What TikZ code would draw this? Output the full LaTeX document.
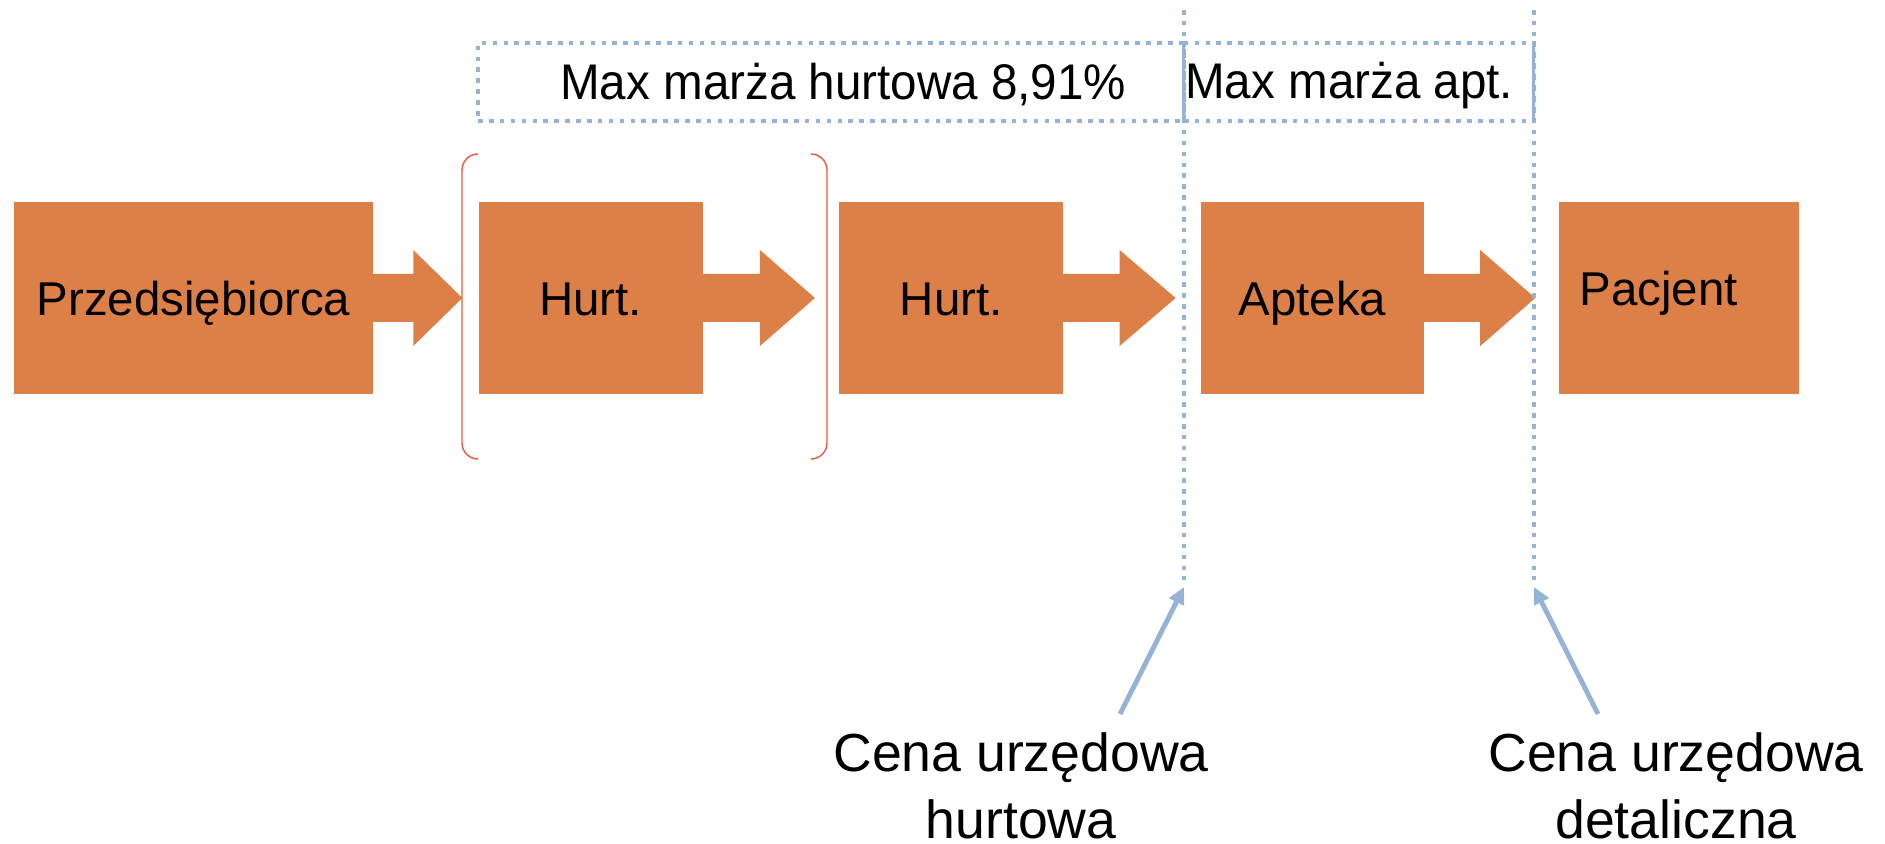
\documentclass[tikz,border=0pt]{standalone}
\usepackage{fontspec}
\newfontfamily\arialfont{Liberation Sans}
\newfontfamily\arialnarrow[FakeStretch=0.95]{Liberation Sans}
\usetikzlibrary{arrows.meta, positioning}
\definecolor{boxorange}{HTML}{DD8048}
\definecolor{lineblue}{HTML}{95B3D7}
\definecolor{bracketred}{HTML}{F0563C}

\begin{document}
\begin{tikzpicture}[
          x=0.02cm, y=-0.02cm,
          box/.style={fill=boxorange, minimum height=3.84cm, minimum width=4.48cm, inner sep=0pt,
              text height=0.72cm, text depth=0pt, font=\arialfont\fontsize{27}{32}\selectfont},
          % Margin boxes on top
          marginbox/.style={draw=lineblue, line width=2.6pt, dash pattern=on 2.6pt off 3.6pt,
              minimum height=1.56cm, inner sep=0pt, outer sep=0pt},
          margintext/.style={anchor=base west, inner sep=0pt, font=\arialnarrow\fontsize{28.5}{34}\selectfont},
          dotline/.style={lineblue, line width=2.6pt, dash pattern=on 2.6pt off 3.6pt},
          % Price labels
          price/.style={align=center, inner sep=0pt, anchor=base, font=\arialfont\fontsize{30.5}{38.1}\selectfont},
          pricearrow/.style={lineblue, line width=2.8pt, -{Triangle[length=9.5pt, width=9pt]}},
          bracket/.style={bracketred, line width=0.8pt, rounded corners=0.32cm}
        ]
        \useasboundingbox (0,0) rectangle (1885,844);

        % -------- Chain of boxes --------
        \node[box, minimum width=7.18cm] (prz) at (193.5,298) {Przedsiębiorca};
        \node[box, right=2.1cm of prz] (hurtA) {Hurt.};
        \node[box, right=2.72cm of hurtA] (hurtB) {Hurt.};
        \node[box, minimum width=4.46cm, right=2.74cm of hurtB] (apt) {Apteka};
        \node[box, minimum width=4.8cm, right=2.68cm of apt, text height=0.32cm,
            text width=3.96cm, align=left] (pac) {Pacjent};

        % -------- Block arrows (start a little inside the box) --------
        \fill[boxorange] (prz.east) ++(-4,-24) -- ++(44,0) -- ++(0,-24) -- ++(49,48) -- ++(-49,48) -- ++(0,-24) -- ++(-44,0) -- cycle;
        \fill[boxorange] (hurtA.east) ++(-4,-24) -- ++(61,0) -- ++(0,-24) -- ++(55,48) -- ++(-55,48) -- ++(0,-24) -- ++(-61,0) -- cycle;
        \fill[boxorange] (hurtB.east) ++(-4,-24) -- ++(60,0) -- ++(0,-24) -- ++(56,48) -- ++(-56,48) -- ++(0,-24) -- ++(-60,0) -- cycle;
        \fill[boxorange] (apt.east) ++(-4,-24) -- ++(60,0) -- ++(0,-24) -- ++(55,48) -- ++(-55,48) -- ++(0,-24) -- ++(-60,0) -- cycle;

        % -------- Bracket round first wholesaler --------
        \draw[bracket] (478,154) -- (462,154) -- (462,459) -- (478,459);
        \draw[bracket] (811,154) -- (827,154) -- (827,459) -- (811,459);

        % -------- Margins --------
        \node[marginbox, minimum width=14.12cm] (mhurt) at (831,82) {};
        \node[marginbox, minimum width=7cm, right=0pt of mhurt] (mapt) {};
        \draw[lineblue, line width=1.7pt] (mapt.north west) -- (mapt.south west);
        \draw[lineblue, line width=1.7pt] (mapt.north east) -- (mapt.south east);
        \node[margintext] (mhurtT) at (560,100) {Max marża hurtowa 8,91\%};
        \node[margintext] (maptT) at (1185,99) {Max marża apt.};

        \draw[dotline] (1184,10) -- (1184,580);
        \draw[dotline] (1534,10) -- (1534,580);

        % -------- Official prices --------
        \node[price] (cenaH) at (1021,838) {Cena urzędowa\\hurtowa};
        \node[price] (cenaD) at (1676,838) {Cena urzędowa\\detaliczna};

        \coordinate (hTip) at (1184,587);
        \coordinate (hTail) at (1120,714);
        \coordinate (dTip) at (1534,587);
        \coordinate (dTail) at (1598,714);
        \draw[pricearrow] (hTail) -- (hTip);
        \draw[pricearrow] (dTail) -- (dTip);

      \end{tikzpicture}
\end{document}
